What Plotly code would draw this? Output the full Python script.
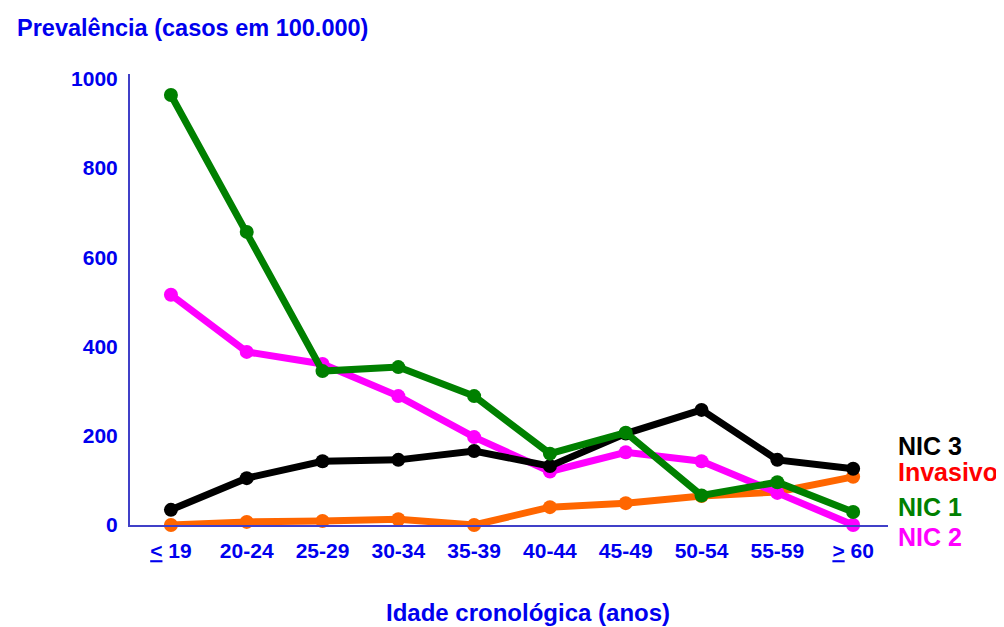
import plotly.graph_objects as go

categories = ["<u>&lt;</u> 19", "20-24", "25-29", "30-34", "35-39", "40-44",
              "45-49", "50-54", "55-59", "<u>&gt;</u> 60"]
nic1 = [964, 657, 345, 354, 289, 160, 207, 66, 96, 29]
nic2 = [516, 388, 361, 289, 197, 120, 163, 143, 72, 0]
nic3 = [34, 105, 143, 146, 166, 132, 205, 258, 146, 126]
invasivo = [0, 7, 9, 13, 0, 40, 49, 65, 74, 108]
y_ticks = [0, 200, 400, 600, 800, 1000]

FONT = "Liberation Sans, Arial, sans-serif"
BLUE = "#0000EE"

series = [
    ("Invasivo", invasivo, "#FF6600"),
    ("NIC 2", nic2, "#FF00FF"),
    ("NIC 3", nic3, "#000000"),
    ("NIC 1", nic1, "#008000"),
]

xs = list(range(len(categories)))
fig = go.Figure()
for name, vals, col in series:
    fig.add_trace(go.Scatter(
        x=xs, y=vals, name=name, mode="lines+markers",
        line=dict(color=col, width=7),
        marker=dict(color=col, size=14),
        cliponaxis=False,
    ))

# page is offset by the 8px body margin; positions below are relative to the plot area
labels = [
    ("NIC 3", 446, "#000000"),
    ("Invasivo", 472, "#FF0000"),
    ("NIC 1", 507, "#008000"),
    ("NIC 2", 537, "#FF00FF"),
]
annotations = []
for txt, ypix, col in labels:
    annotations.append(dict(
        text=txt, xref="paper", yref="paper",
        x=(896 - 130) / 758, y=(525 - ypix) / 451,
        xanchor="left", yanchor="middle", showarrow=False,
        font=dict(family=FONT, size=25, color=col, weight="bold"),
    ))
annotations.append(dict(
    text="Idade cronológica (anos)", xref="paper", yref="paper",
    x=(528 - 130) / 758, y=(525 - 612) / 451,
    xanchor="center", yanchor="middle", showarrow=False,
    font=dict(family=FONT, size=24, color=BLUE, weight="bold"),
))

fig.update_layout(
    width=996, height=619,
    margin=dict(l=122, r=116, t=66, b=102),
    paper_bgcolor="white", plot_bgcolor="white",
    showlegend=False,
    title=dict(
        text="Prevalência (casos em 100.000)",
        x=9 / 996, xref="container", xanchor="left",
        y=1 - 20 / 619, yref="container", yanchor="middle",
        font=dict(family=FONT, size=23.5, color=BLUE, weight="bold"),
    ),
    annotations=annotations,
)
fig.update_xaxes(
    range=[-0.54, 9.46], tickvals=xs, ticktext=categories,
    showgrid=False, zeroline=False, showline=True,
    linecolor="#4040C8", linewidth=2, ticks="",
    ticklabelstandoff=6,
    tickfont=dict(family=FONT, size=21, color=BLUE, weight="bold"),
)
fig.update_yaxes(
    range=[0, 1011], tickvals=y_ticks,
    showgrid=False, zeroline=False, showline=True,
    linecolor="#4040C8", linewidth=2, ticks="",
    ticklabelstandoff=6,
    tickfont=dict(family=FONT, size=21, color=BLUE, weight="bold"),
)

fig.write_html("out.html")
